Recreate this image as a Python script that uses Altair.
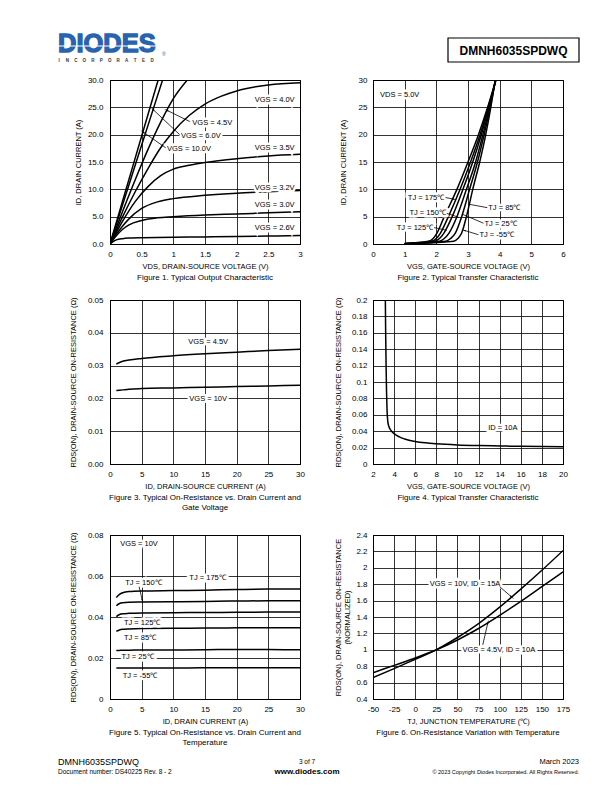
import math
import altair as alt
import pandas as pd

FONT = "Liberation Sans"
W, H = 190, 164
BLUE = "#2763AE"

# ---------------- Figure 1: Typical Output Characteristic ----------------
f1_x_100 = [0, 0.2, 0.4, 0.6, 0.76]
f1_y_100 = [0, 7.9, 15.8, 23.7, 30]
f1_x_60 = [0, 0.2, 0.4, 0.6, 0.83]
f1_y_60 = [0, 7.2, 14.5, 21.7, 30]
f1_x_45 = [0, 0.2, 0.4, 0.6, 0.8, 1.0, 1.22]
f1_y_45 = [0, 6.0, 11.8, 17.3, 22.3, 26.6, 30]
f1_x_40 = [0, 0.2, 0.4, 0.6, 0.8, 1.0, 1.25, 1.5, 1.75, 2.0, 2.5, 3.0]
f1_y_40 = [0, 5.0, 9.6, 13.8, 17.6, 20.6, 23.5, 25.6, 27.0, 28.0, 29.1, 29.5]
f1_x_35 = [0, 0.2, 0.4, 0.6, 0.8, 1.0, 1.25, 1.5, 2.0, 2.5, 3.0]
f1_y_35 = [0, 4.2, 7.8, 10.5, 12.5, 13.7, 14.4, 14.9, 15.6, 16.1, 16.4]
f1_x_32 = [0, 0.1, 0.2, 0.3, 0.5, 0.75, 1.0, 1.5, 2.0, 2.5, 3.0]
f1_y_32 = [0, 1.8, 3.3, 4.6, 6.5, 7.7, 8.3, 8.9, 9.3, 9.55, 9.8]
f1_x_30 = [0, 0.1, 0.2, 0.3, 0.5, 0.75, 1.0, 1.5, 2.0, 2.5, 3.0]
f1_y_30 = [0, 1.5, 2.7, 3.5, 4.3, 4.8, 5.0, 5.3, 5.5, 5.7, 5.9]
f1_x_26 = [0, 0.05, 0.1, 0.2, 0.3, 0.5, 1.0, 1.5, 2.0, 2.5, 3.0]
f1_y_26 = [0, 0.45, 0.75, 0.98, 1.08, 1.15, 1.25, 1.3, 1.38, 1.45, 1.55]

f1_lab_t = ["VGS = 4.0V", "VGS = 3.5V", "VGS = 3.2V", "VGS = 3.0V", "VGS = 2.6V",
            "VGS = 4.5V", "VGS = 6.0V", "VGS = 10.0V"]
f1_lab_x = [2.6, 2.6, 2.6, 2.6, 2.6, 1.3, 1.12, 0.9]
f1_lab_y = [26.4, 17.6, 10.3, 7.2, 3.0, 22.2, 19.8, 17.4]
f1_lab_a = ["center"] * 5 + ["left"] * 3
f1_arr_x1 = [1.26, 1.1, 0.88]
f1_arr_y1 = [22.4, 20.0, 17.6]
f1_arr_x2 = [0.9, 0.68, 0.52]
f1_arr_y2 = [24.45, 24.6, 20.5]
f1_arr_hd = [1, 1, 1]

# ---------------- Figure 2: Typical Transfer Characteristic ----------------
f2_id = [0.05, 0.5, 1, 2, 5, 10, 15, 20, 25, 30]
f2_v_175 = [1.0, 1.75, 1.9, 2.02, 2.25, 2.65, 3.0, 3.33, 3.62, 3.88]
f2_v_150 = [1.0, 1.85, 2.0, 2.13, 2.38, 2.75, 3.08, 3.38, 3.64, 3.88]
f2_v_125 = [1.0, 1.95, 2.1, 2.24, 2.5, 2.84, 3.15, 3.42, 3.66, 3.88]
f2_v_85 = [1.0, 2.1, 2.25, 2.4, 2.65, 2.95, 3.24, 3.47, 3.68, 3.87]
f2_v_25 = [1.0, 2.3, 2.45, 2.6, 2.8, 3.05, 3.3, 3.51, 3.7, 3.87]
f2_v_m55 = [1.0, 2.55, 2.68, 2.8, 2.95, 3.15, 3.37, 3.56, 3.72, 3.86]
f2_id_start = [0.1, 0.08, 0.06, 0.04, 0.02, 0.0]

f2_lab_t = ["VDS = 5.0V", "TJ = 175℃", "TJ = 150℃", "TJ = 125℃", "TJ = 85℃", "TJ = 25℃", "TJ = -55℃"]
f2_lab_x = [0.22, 2.25, 2.3, 1.9, 3.64, 3.52, 3.36]
f2_lab_y = [27.3, 8.5, 5.7, 3.0, 6.6, 3.7, 1.6]
f2_lab_a = ["left", "right", "right", "right", "left", "left", "left"]
f2_arr_x1 = [2.29, 2.33, 1.93, 3.61, 3.49, 3.33]
f2_arr_y1 = [8.5, 5.6, 3.0, 6.65, 3.8, 1.7]
f2_arr_x2 = [2.56, 2.7, 2.33, 3.0, 2.84, 2.88]
f2_arr_y2 = [8.2, 4.9, 2.5, 7.3, 5.4, 2.5]
f2_arr_hd = [1, 0, 0, 0, 0, 1]

# ---------------- Figure 3: On-Resistance vs Drain Current and Gate Voltage ----------------
f3_id = [1, 2, 3, 5, 10, 15, 20, 25, 30]
f3_r_45 = [0.0305, 0.0313, 0.0317, 0.0322, 0.0330, 0.0336, 0.0341, 0.0346, 0.0350]
f3_r_10 = [0.0224, 0.0226, 0.0228, 0.0230, 0.0232, 0.0234, 0.0236, 0.0238, 0.0240]
f3_lab_t = ["VGS = 4.5V", "VGS = 10V"]
f3_lab_x = [15.5, 15.5]
f3_lab_y = [0.0373, 0.0198]

# ---------------- Figure 4: R vs VGS ----------------
f4_vgs = [3.17, 3.2, 3.24, 3.28, 3.33, 3.4, 3.5, 3.7, 4.0, 4.5, 5, 6, 7, 8, 10, 12, 14, 16, 18, 20]
f4_r = [0.2, 0.16, 0.12, 0.09, 0.066, 0.052, 0.046, 0.041, 0.037, 0.033, 0.0305, 0.0275,
        0.0258, 0.0247, 0.0233, 0.0225, 0.022, 0.0215, 0.0212, 0.021]
f4_lab_t = ["ID = 10A"]
f4_lab_x = [14.3]
f4_lab_y = [0.0437]

# ---------------- Figure 5: R vs Drain Current and Temperature ----------------
f5_id = [1, 1.5, 2, 3, 5, 10, 15, 20, 25, 30]
f5_r_175 = [0.0495, 0.0510, 0.0518, 0.0524, 0.0527, 0.0529, 0.0531, 0.0534, 0.0536, 0.0536]
f5_r_150 = [0.0455, 0.0466, 0.0470, 0.0472, 0.0473, 0.0474, 0.0476, 0.0478, 0.0479, 0.0479]
f5_r_125 = [0.0402, 0.0412, 0.0416, 0.0418, 0.0420, 0.0421, 0.0422, 0.0423, 0.0424, 0.0424]
f5_r_85 = [0.0330, 0.0337, 0.0340, 0.0342, 0.0344, 0.0345, 0.0346, 0.0347, 0.0347, 0.0347]
f5_r_25 = [0.0236, 0.0237, 0.0238, 0.0238, 0.0239, 0.0239, 0.0240, 0.0242, 0.0241, 0.0240]
f5_r_m55 = [0.0151, 0.0151, 0.0151, 0.0151, 0.0151, 0.0151, 0.0152, 0.0152, 0.0152, 0.0152]
f5_lab_t = ["VGS = 10V", "TJ = 175℃", "TJ = 150℃", "TJ = 125℃", "TJ = 85℃", "TJ = 25℃", "TJ = -55℃"]
f5_lab_x = [1.6, 15.4, 2.4, 2.2, 2.2, 1.8, 2.0]
f5_lab_y = [0.0755, 0.0591, 0.0566, 0.0372, 0.0298, 0.0205, 0.0111]
f5_lab_a = ["left", "center", "left", "left", "left", "left", "left"]
f5_arr_x1 = [4.6]
f5_arr_y1 = [0.0548]
f5_arr_x2 = [5.1]
f5_arr_y2 = [0.0481]
f5_arr_hd = [1]

# ---------------- Figure 6: R vs Temperature ----------------
f6_t = [-50, -25, 0, 25, 50, 75, 100, 125, 150, 175]
f6_r_10v = [0.66, 0.77, 0.885, 1.0, 1.15, 1.32, 1.52, 1.74, 1.97, 2.21]
f6_r_45v = [0.72, 0.81, 0.90, 1.0, 1.12, 1.26, 1.42, 1.59, 1.77, 1.95]
f6_lab_t = ["VGS = 10V, ID = 15A", "VGS = 4.5V, ID = 10A"]
f6_lab_x = [59, 99]
f6_lab_y = [1.8, 1.0]
f6_arr_x1 = [100, 80]
f6_arr_y1 = [1.77, 1.06]
f6_arr_x2 = [114, 86]
f6_arr_y2 = [1.645, 1.33]
f6_arr_hd = [1, 1]


def series_df(pairs):
    rows = []
    for name, xs, ys in pairs:
        for x, y in zip(xs, ys):
            rows.append({"x": x, "y": y, "s": name})
    return pd.DataFrame(rows)


def label_df(t, x, y, a=None):
    if a is None:
        a = ["center"] * len(t)
    return pd.DataFrame({"t": t, "x": x, "y": y, "a": a})


def arrow_df(x1, y1, x2, y2, hd):
    return pd.DataFrame({"x1": x1, "y1": y1, "x2": x2, "y2": y2, "hd": hd})


MINUS_FIX = "replace(datum.label, '\u2212', '-')"


def make_fig(lines, xdom, ydom, xvals, yvals, xfmt, yfmt, xtitle, ytitle, ytx,
             caption, labels, arrows=None, ylp=7):
    xs = alt.Scale(domain=xdom, nice=False, zero=False)
    ys = alt.Scale(domain=ydom, nice=False, zero=False)
    xax = alt.Axis(title=xtitle, values=xvals, format=xfmt, labelFlush=False,
                   titleY=22, titleBaseline="middle", labelPadding=6, labelExpr=MINUS_FIX)
    yax = alt.Axis(title=ytitle, values=yvals, format=yfmt, titleX=ytx,
                   titleBaseline="middle", labelPadding=ylp)

    def X(f):
        return alt.X(f, scale=xs, axis=xax)

    def Y(f):
        return alt.Y(f, scale=ys, axis=yax)

    layers = [
        alt.Chart(lines).mark_line(color="black", strokeWidth=1.5,
                                   interpolate="monotone", clip=True).encode(
            x=X("x:Q"), y=Y("y:Q"), detail="s:N")
    ]
    halos, texts = [], []
    for a in ["left", "center", "right"]:
        sub = labels[labels.a == a]
        if len(sub) == 0:
            continue
        halos.append(alt.Chart(sub).mark_text(
            align=a, baseline="middle", font=FONT, fontSize=7.5,
            color="white", stroke="white", strokeWidth=5).encode(
            x=X("x:Q"), y=Y("y:Q"), text="t:N"))
        texts.append(alt.Chart(sub).mark_text(
            align=a, baseline="middle", font=FONT, fontSize=7.5,
            color="black").encode(x=X("x:Q"), y=Y("y:Q"), text="t:N"))
    layers += halos
    if arrows is not None:
        kx = W / (xdom[1] - xdom[0])
        ky = H / (ydom[1] - ydom[0])
        arrows = arrows.copy()
        arrows["ang"] = [
            math.degrees(math.atan2((r.x2 - r.x1) * kx, (r.y2 - r.y1) * ky)) % 360
            for r in arrows.itertuples()
        ]
        layers.append(alt.Chart(arrows).mark_rule(color="black", strokeWidth=0.8).encode(
            x=X("x1:Q"), y=Y("y1:Q"), x2="x2:Q", y2="y2:Q"))
        heads = arrows[arrows.hd == 1]
        if len(heads):
            layers.append(alt.Chart(heads).mark_point(
                shape="wedge", filled=True, size=30, color="black", opacity=1).encode(
                x=X("x2:Q"), y=Y("y2:Q"), angle=alt.Angle("ang:Q", scale=None)))
    layers += texts
    return alt.layer(*layers).properties(
        width=W, height=H,
        title=alt.TitleParams(text=caption, orient="bottom", anchor="middle", frame="group",
                              offset=4, font=FONT, fontSize=8, fontWeight="normal",
                              color="black", lineHeight=10.5),
    )


RDS = "RDS(ON), DRAIN-SOURCE ON-RESISTANCE (Ω)"

fig1 = make_fig(
    series_df([("10.0V", f1_x_100, f1_y_100), ("6.0V", f1_x_60, f1_y_60), ("4.5V", f1_x_45, f1_y_45),
               ("4.0V", f1_x_40, f1_y_40), ("3.5V", f1_x_35, f1_y_35), ("3.2V", f1_x_32, f1_y_32),
               ("3.0V", f1_x_30, f1_y_30), ("2.6V", f1_x_26, f1_y_26)]),
    [0, 3], [0, 30], [0, 0.5, 1, 1.5, 2, 2.5, 3], [0, 5, 10, 15, 20, 25, 30], "~g", ".1f",
    "VDS, DRAIN-SOURCE VOLTAGE (V)", "ID, DRAIN CURRENT (A)", -32,
    "Figure 1. Typical Output Characteristic",
    label_df(f1_lab_t, f1_lab_x, f1_lab_y, f1_lab_a),
    arrow_df(f1_arr_x1, f1_arr_y1, f1_arr_x2, f1_arr_y2, f1_arr_hd),
)

f2_pairs = []
for name, vs, st in [("175", f2_v_175, f2_id_start[0]), ("150", f2_v_150, f2_id_start[1]),
                     ("125", f2_v_125, f2_id_start[2]), ("85", f2_v_85, f2_id_start[3]),
                     ("25", f2_v_25, f2_id_start[4]), ("-55", f2_v_m55, f2_id_start[5])]:
    f2_pairs.append((name, vs, [st] + f2_id[1:]))

fig2 = make_fig(
    series_df(f2_pairs),
    [0, 6], [0, 30], [0, 1, 2, 3, 4, 5, 6], [0, 5, 10, 15, 20, 25, 30], "d", "d",
    "VGS, GATE-SOURCE VOLTAGE (V)", "ID, DRAIN CURRENT (A)", -30,
    "Figure 2. Typical Transfer Characteristic",
    label_df(f2_lab_t, f2_lab_x, f2_lab_y, f2_lab_a),
    arrow_df(f2_arr_x1, f2_arr_y1, f2_arr_x2, f2_arr_y2, f2_arr_hd),
    ylp=6,
)

fig3 = make_fig(
    series_df([("4.5V", f3_id, f3_r_45), ("10V", f3_id, f3_r_10)]),
    [0, 30], [0, 0.05], [0, 5, 10, 15, 20, 25, 30], [0, 0.01, 0.02, 0.03, 0.04, 0.05], "d", ".2f",
    "ID, DRAIN-SOURCE CURRENT (A)", RDS, -37,
    ["Figure 3. Typical On-Resistance vs. Drain Current and", "Gate Voltage"],
    label_df(f3_lab_t, f3_lab_x, f3_lab_y),
)

fig4 = make_fig(
    series_df([("10A", f4_vgs, f4_r)]),
    [2, 20], [0, 0.2], [2, 4, 6, 8, 10, 12, 14, 16, 18, 20],
    [0, 0.02, 0.04, 0.06, 0.08, 0.1, 0.12, 0.14, 0.16, 0.18, 0.2], "d", "~g",
    "VGS, GATE-SOURCE VOLTAGE (V)", RDS, -35,
    "Figure 4. Typical Transfer Characteristic",
    label_df(f4_lab_t, f4_lab_x, f4_lab_y),
    ylp=6,
)

fig5 = make_fig(
    series_df([("175", f5_id, f5_r_175), ("150", f5_id, f5_r_150), ("125", f5_id, f5_r_125),
               ("85", f5_id, f5_r_85), ("25", f5_id, f5_r_25), ("-55", f5_id, f5_r_m55)]),
    [0, 30], [0, 0.08], [0, 5, 10, 15, 20, 25, 30], [0, 0.02, 0.04, 0.06, 0.08], "d", "~g",
    "ID, DRAIN CURRENT (A)", RDS, -37,
    ["Figure 5. Typical On-Resistance vs. Drain Current and", "Temperature"],
    label_df(f5_lab_t, f5_lab_x, f5_lab_y, f5_lab_a),
    arrow_df(f5_arr_x1, f5_arr_y1, f5_arr_x2, f5_arr_y2, f5_arr_hd),
)

fig6 = make_fig(
    series_df([("10V15A", f6_t, f6_r_10v), ("4.5V10A", f6_t, f6_r_45v)]),
    [-50, 175], [0.4, 2.4], [-50, -25, 0, 25, 50, 75, 100, 125, 150, 175],
    [0.4, 0.6, 0.8, 1, 1.2, 1.4, 1.6, 1.8, 2, 2.2, 2.4], "d", "~g",
    "TJ, JUNCTION TEMPERATURE (℃)", ["RDS(ON), DRAIN-SOURCE ON-RESISTANCE", "(NORMALIZED)"], -35,
    "Figure 6. On-Resistance Variation with Temperature",
    label_df(f6_lab_t, f6_lab_x, f6_lab_y),
    arrow_df(f6_arr_x1, f6_arr_y1, f6_arr_x2, f6_arr_y2, f6_arr_hd),
    ylp=6,
)

NOVIEW = alt.ViewBackground(stroke="transparent")
ONE = pd.DataFrame({"v": [0]})


def spacer(w, h):
    return alt.Chart(ONE).mark_point(opacity=0, size=1).encode(
        x=alt.value(w / 2), y=alt.value(h / 2)).properties(width=w, height=h, view=NOVIEW)


def txt(text, x, y, size, align="left", weight="normal", color="black"):
    return alt.Chart(pd.DataFrame({"t": [text]})).mark_text(
        align=align, baseline="middle", font=FONT, fontSize=size, fontWeight=weight,
        color=color).encode(text="t:N", x=alt.value(x), y=alt.value(y))


# ---------------- header ----------------
logo_letters = list("INCORPORATED")
header = alt.layer(
    alt.Chart(pd.DataFrame({"t": ["DIODES"]})).mark_text(
        align="left", baseline="alphabetic", font=FONT, fontSize=25.5, fontWeight="bold",
        color=BLUE, stroke=BLUE, strokeWidth=1.3).encode(text="t:N", x=alt.value(49), y=alt.value(43)),
    alt.Chart(ONE).mark_rule(color="white", strokeWidth=1).encode(
        x=alt.value(46), x2=alt.value(154), y=alt.value(37)),
    alt.Chart(pd.DataFrame({"c": logo_letters, "i": list(range(len(logo_letters)))})).mark_text(
        align="center", baseline="middle", font=FONT, fontSize=4.5, fontWeight="bold",
        color="#333333").encode(
        text="c:N", x=alt.X("i:Q", scale=alt.Scale(domain=[0, 11], range=[50, 143]), axis=None),
        y=alt.value(52)),
    txt("®", 153, 45, 5, color=BLUE),
    alt.Chart(ONE).mark_rect(fillOpacity=0, stroke="black", strokeWidth=1.2).encode(
        x=alt.value(439), x2=alt.value(570), y=alt.value(29), y2=alt.value(53)),
    txt("DMNH6035SPDWQ", 504.5, 41.5, 12, align="center", weight="bold"),
).properties(width=590, height=71, view=NOVIEW)

# ---------------- footer ----------------
footer = alt.layer(
    txt("DMNH6035SPDWQ", 49, 9, 9),
    txt("Document number: DS40225  Rev. 8 - 2", 49, 19, 6.5),
    txt("3 of 7", 298, 9, 6.5, align="center"),
    txt("www.diodes.com", 298, 19, 8, align="center", weight="bold"),
    txt("March 2023", 570, 9, 7.5, align="right"),
    txt("© 2023 Copyright Diodes Incorporated. All Rights Reserved.", 570, 19, 5.5, align="right"),
).properties(width=590, height=24, view=NOVIEW)

row1 = alt.hconcat(spacer(28, 1), fig1, fig2, spacing=73, bounds="flush")
row2 = alt.hconcat(spacer(28, 1), fig3, fig4, spacing=73, bounds="flush")
row3 = alt.hconcat(spacer(28, 1), fig5, fig6, spacing=73, bounds="flush")

chart = alt.vconcat(
    header, row1, spacer(1, 220), row2, spacer(1, 235), row3, spacer(1, 218), footer,
    spacing=0, bounds="flush",
).properties(padding=0).configure_view(
    stroke="black", strokeWidth=1
).configure_axis(
    labelFont=FONT, labelFontSize=8, labelColor="black",
    titleFont=FONT, titleFontSize=7.5, titleFontWeight="normal", titleColor="black",
    grid=True, gridColor="black", gridOpacity=1, gridWidth=0.8,
    domainColor="black", domainWidth=1, ticks=False, tickSize=0,
    labelOverlap=False, labelFlush=False,
).configure_title(font=FONT)

chart.save("out.html", embed_options={"renderer": "svg", "actions": False})
